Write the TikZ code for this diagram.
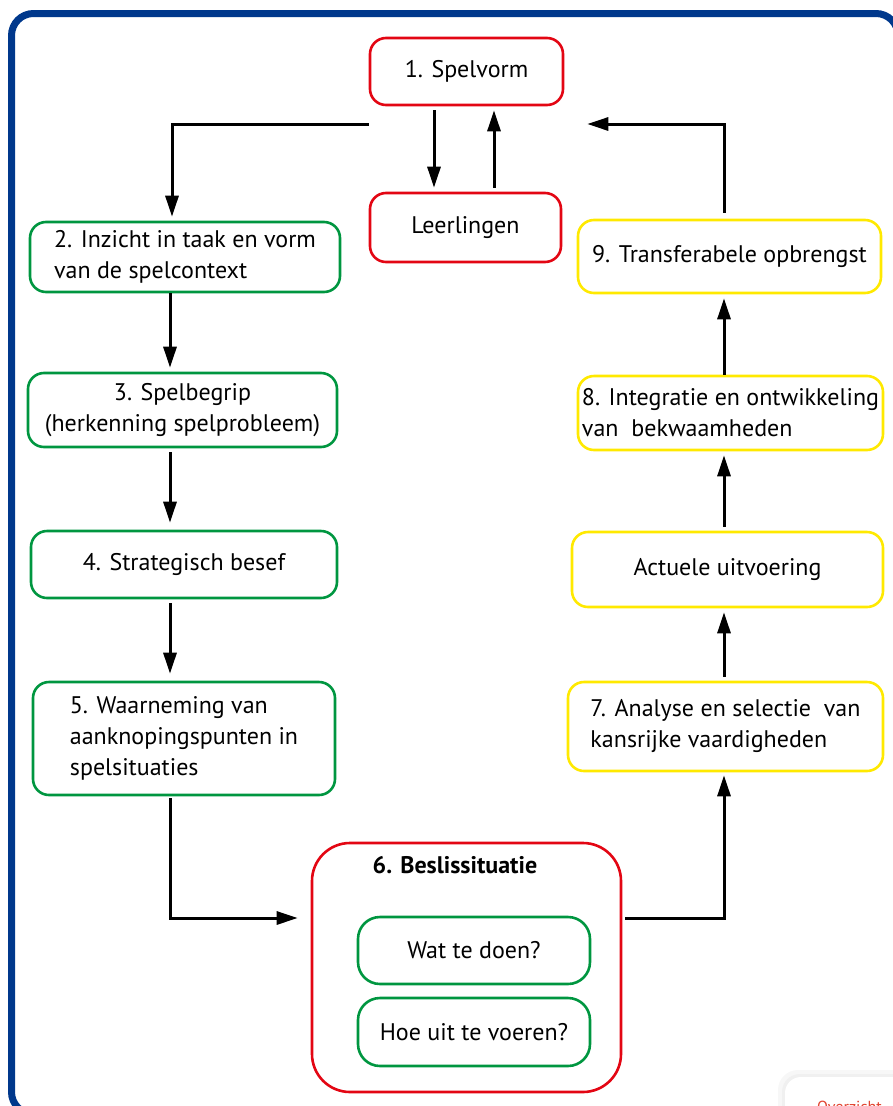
\documentclass[tikz,border=0pt]{standalone}
\usepackage{fontspec}
\setmainfont{PT Sans}
\usetikzlibrary{arrows.meta}
\definecolor{spred}{RGB}{227,6,19}
\definecolor{spgreen}{RGB}{0,150,64}
\definecolor{spyellow}{RGB}{255,233,0}
\definecolor{spblue}{RGB}{0,56,140}
\definecolor{sporange}{RGB}{226,70,50}
\begin{document}
\begin{tikzpicture}[x=1pt, y=-1pt,
    box/.style={draw, line width=2.6pt, rounded corners=16pt, inner sep=2pt,
        font=\fontsize{24}{31}\selectfont},
    redbox/.style={box, draw=spred, align=center},
    greenbox/.style={box, draw=spgreen},
    yellowbox/.style={box, draw=spyellow},
    arr/.style={line width=3pt, -{Triangle[length=21pt,width=13pt]},
        shorten <=4pt, shorten >=4pt}]
    \clip (0,0) rectangle (893,1106);
    % blue frame, runs off the right and bottom edge
    \draw[line width=7pt, spblue, rounded corners=22pt] (11.5,13.5) rectangle (898,1114);

    % top: game form and pupils
    \node[redbox, minimum width=193pt, minimum height=67pt] (sv) at (466.5,71.5) {1. Spelvorm};
    \node[redbox, minimum width=191pt, minimum height=69pt] (ll) at (465.5,227.5) {Leerlingen};

    % left column
    \node[greenbox, align=left, minimum width=310pt, minimum height=70pt] (b2) at (185,257)
        {2. Inzicht in taak en vorm\\van de spelcontext};
    \node[greenbox, align=center, minimum width=309pt, minimum height=74pt] (b3) at (182.5,410)
        {3. Spelbegrip\\(herkenning spelprobleem)};
    \node[greenbox, align=center, minimum width=306pt, minimum height=67pt] (b4) at (184,564.5)
        {4. Strategisch besef};
    \node[greenbox, align=left, minimum width=302pt, minimum height=113pt] (b5) at (184,738.5)
        {5. Waarneming van\\aanknopingspunten in\\spelsituaties};

    % decision situation
    \node[box, draw=spred, rounded corners=38pt, minimum width=309pt, minimum height=249pt] (b6) at (466.5,967.5) {};
    \node[font=\fontsize{24}{31}\selectfont\bfseries] (b6t) at (455,865) {6. Beslissituatie};
    \node[greenbox, align=center, rounded corners=22pt, minimum width=232pt, minimum height=67pt] (wd) at (474,950.5) {Wat te doen?};
    \node[greenbox, align=center, rounded corners=22pt, minimum width=232pt, minimum height=68pt] (hu) at (474,1032) {Hoe uit te voeren?};

    % right column
    \node[yellowbox, align=left, minimum width=315pt, minimum height=89pt] (b7) at (725.5,726.5)
        {7. Analyse en selectie\ \ van\\kansrijke vaardigheden};
    \node[yellowbox, align=center, minimum width=311pt, minimum height=75pt] (au) at (727.5,569.5)
        {Actuele uitvoering};
    \node[yellowbox, align=left, minimum width=305pt, minimum height=74pt] (b8) at (730.5,413)
        {8. Integratie en ontwikkeling\\van\ \ bekwaamheden};
    \node[yellowbox, align=center, minimum width=303pt, minimum height=73pt] (b9) at (729.5,256.5)
        {9. Transferabele opbrengst};

    % columns of the arrows
    \coordinate (lc) at (170,0);
    \coordinate (rc) at (724,0);
    \coordinate (ry) at (0,918);
    \coordinate (ty) at (0,124);

    \draw[arr, shorten <=0pt] (sv.west |- ty) -| ([xshift=-13pt]b2.north);
    \draw[arr] ([xshift=-32.5pt]sv.south) -- ([xshift=-31.5pt]ll.north);
    \draw[arr] ([xshift=28.5pt]ll.north) -- ([xshift=27.5pt]sv.south);
    \draw[arr, shorten <=6pt, shorten >=23pt] (b9.north -| rc) |- (sv.east |- ty);

    \draw[arr, shorten <=0pt] (b2.south -| lc) -- (b3.north -| lc);
    \draw[arr, shorten >=7pt] (b3.south -| lc) -- (b4.north -| lc);
    \draw[arr, shorten >=7pt] (b4.south -| lc) -- (b5.north -| lc);
    \draw[arr, shorten <=2pt, shorten >=13pt] (b5.south -| lc) |- (b6.west |- ry);
    \draw[arr, shorten >=3pt] ([xshift=-1pt]b6.east |- ry) -| (b7.south -| rc);

    \draw[arr] (b7.north -| rc) -- (au.south -| rc);
    \draw[arr] (au.north -| rc) -- (b8.south -| rc);
    \draw[arr, shorten <=0pt] (b8.north -| rc) -- (b9.south -| rc);

    % overview button in the corner
    \fill[black!3, rounded corners=20pt] (778,1070) rectangle (930,1140);
    \fill[black!6, rounded corners=18pt] (782,1074) rectangle (930,1140);
    \fill[white, rounded corners=16pt] (785,1077) rectangle (930,1140);
    \node[anchor=base west, inner sep=0pt, text=sporange, font=\fontsize{16}{18}\selectfont] (ov) at (817,1112) {Overzicht};
\end{tikzpicture}
\end{document}
